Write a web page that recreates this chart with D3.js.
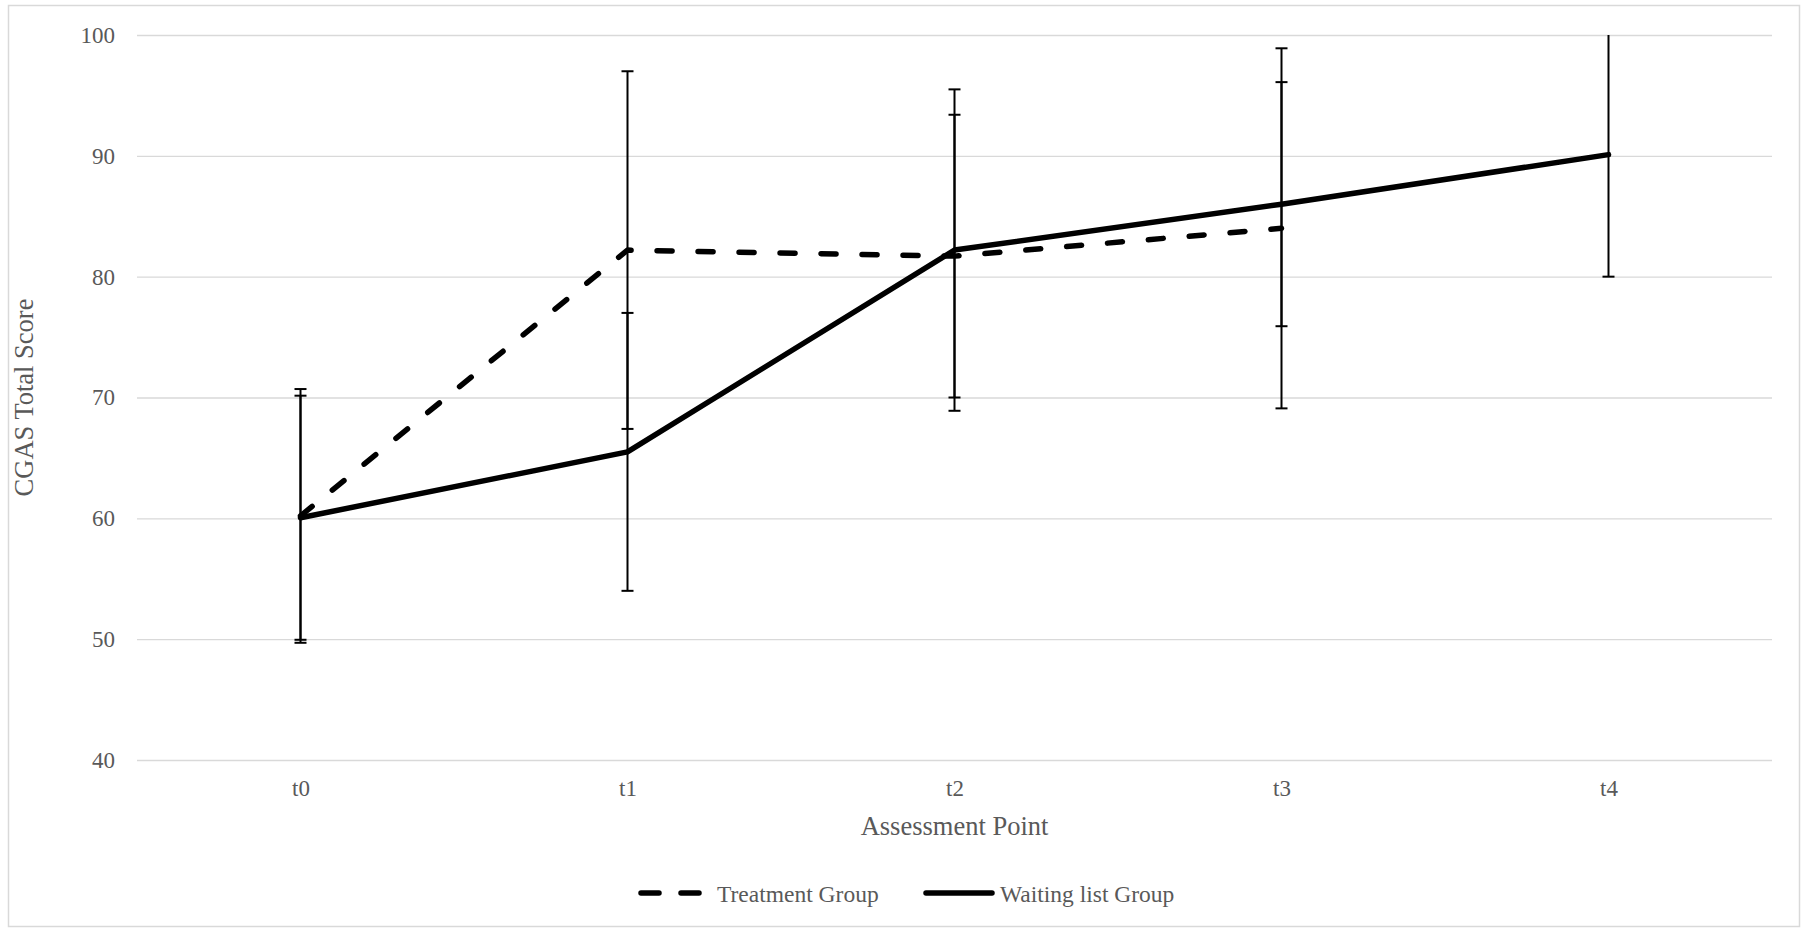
<!DOCTYPE html>
<html>
<head>
<meta charset="utf-8">
<script src="https://cdn.jsdelivr.net/npm/d3@7"></script>
<style>
    body { margin: 0; background: #fff; }
    svg { display: block; font-family: "Liberation Serif", "Times New Roman", serif; }
    .axis text { fill: #595959; font-size: 23px; font-family: "Liberation Serif", "Times New Roman", serif; }
    .axis .domain { display: none; }
    .grid line { stroke: #d9d9d9; stroke-width: 1.3; }
</style>
</head>
<body>
<div id="chart-container"></div>
<script>
// assessment points
const categories = ["t0", "t1", "t2", "t3", "t4"];

// means and error (+/-)
const treatmentMean = [60.2, 82.2, 81.7, 84.0, null];
const treatmentErr = [10.5, 14.8, 11.7, 14.9, null];
const waitingMean = [60.05, 65.5, 82.2, 86.0, 90.1];
const waitingErr = [10.1, 11.5, 13.3, 10.1, 10.1];

const yTicks = [40, 50, 60, 70, 80, 90, 100];

const width = 1805;
const height = 929;
const margin = ({ top: 35, right: 33, bottom: 169, left: 137 });

const svg = d3.select("#chart-container")
    .append("svg")
    .attr("width", width)
    .attr("height", height);

// chart frame
svg.append("rect")
    .attr("x", 8.5)
    .attr("y", 5.5)
    .attr("width", 1791)
    .attr("height", 921)
    .attr("fill", "none")
    .attr("stroke", "#d9d9d9")
    .attr("stroke-width", 1.5);

const x = d3.scalePoint()
    .domain(categories)
    .range([margin.left, width - margin.right])
    .padding(0.5);

const y = d3.scaleLinear()
    .domain([40, 100])
    .range([height - margin.bottom, margin.top]);

const yAxis = g => g
    .attr("class", "axis grid")
    .attr("transform", `translate(${margin.left},0)`)
    .call(d3.axisLeft(y).tickValues(yTicks)
        .tickSize(-(width - margin.left - margin.right))
        .tickPadding(22));

const xAxis = g => g
    .attr("class", "axis x")
    .attr("transform", `translate(0,${height - margin.bottom})`)
    .call(d3.axisBottom(x).tickSize(0).tickPadding(20));

svg.append("g").call(yAxis);
svg.append("g").call(xAxis);

svg.append("clipPath")
    .attr("id", "plot-clip")
    .append("rect")
    .attr("x", margin.left)
    .attr("y", margin.top)
    .attr("width", width - margin.left - margin.right)
    .attr("height", height - margin.top - margin.bottom);

const series = [
    { name: "Treatment Group", mean: treatmentMean, err: treatmentErr, dash: "15,26" },
    { name: "Waiting list Group", mean: waitingMean, err: waitingErr, dash: null }
];

const plot = svg.append("g").attr("clip-path", "url(#plot-clip)");

// error bars
series.forEach(s => {
    const pts = categories.map((c, i) => ({ c, m: s.mean[i], e: s.err[i] }))
        .filter(d => d.m != null);
    const eb = plot.append("g")
        .attr("stroke", "#000")
        .attr("stroke-width", 2);
    eb.selectAll(".stem")
        .data(pts)
        .enter().append("line")
        .attr("x1", d => x(d.c))
        .attr("x2", d => x(d.c))
        .attr("y1", d => y(d.m + d.e))
        .attr("y2", d => y(d.m - d.e));
    eb.selectAll(".capTop")
        .data(pts)
        .enter().append("line")
        .attr("x1", d => x(d.c) - 6)
        .attr("x2", d => x(d.c) + 6)
        .attr("y1", d => y(d.m + d.e))
        .attr("y2", d => y(d.m + d.e));
    eb.selectAll(".capBottom")
        .data(pts)
        .enter().append("line")
        .attr("x1", d => x(d.c) - 6)
        .attr("x2", d => x(d.c) + 6)
        .attr("y1", d => y(d.m - d.e))
        .attr("y2", d => y(d.m - d.e));
});

const line = d3.line()
    .defined(d => d.m != null)
    .x(d => x(d.c))
    .y(d => y(d.m));

series.forEach(s => {
    plot.append("path")
        .datum(categories.map((c, i) => ({ c, m: s.mean[i] })))
        .attr("fill", "none")
        .attr("stroke", "#000")
        .attr("stroke-width", 5.5)
        .attr("stroke-linejoin", "round")
        .attr("stroke-linecap", "round")
        .attr("stroke-dasharray", s.dash)
        .attr("d", line);
});

// axis titles
svg.append("text")
    .attr("x", (margin.left + width - margin.right) / 2)
    .attr("y", 835)
    .attr("text-anchor", "middle")
    .attr("fill", "#595959")
    .attr("font-size", 26.5)
    .text("Assessment Point");

svg.append("text")
    .attr("transform", `translate(33,${(margin.top + height - margin.bottom) / 2}) rotate(-90)`)
    .attr("text-anchor", "middle")
    .attr("fill", "#595959")
    .attr("font-size", 26.5)
    .text("CGAS Total Score");

// legend
const legendItems = [
    { name: series[0].name, dash: "15,26", x0: 641, x1: 700, tx: 717 },
    { name: series[1].name, dash: null, x0: 926, x1: 992, tx: 1000 }
];

const legend = svg.append("g").attr("transform", "translate(0,893)");

legend.selectAll("line")
    .data(legendItems)
    .enter().append("line")
    .attr("x1", d => d.x0)
    .attr("x2", d => d.x1)
    .attr("stroke", "#000")
    .attr("stroke-width", 5.5)
    .attr("stroke-linecap", "round")
    .attr("stroke-dasharray", d => d.dash === null ? null : "18,22");

legend.selectAll("text")
    .data(legendItems)
    .enter().append("text")
    .attr("x", d => d.tx)
    .attr("y", 8.5)
    .attr("fill", "#595959")
    .attr("font-size", 23.5)
    .text(d => d.name);
</script>
</body>
</html>
